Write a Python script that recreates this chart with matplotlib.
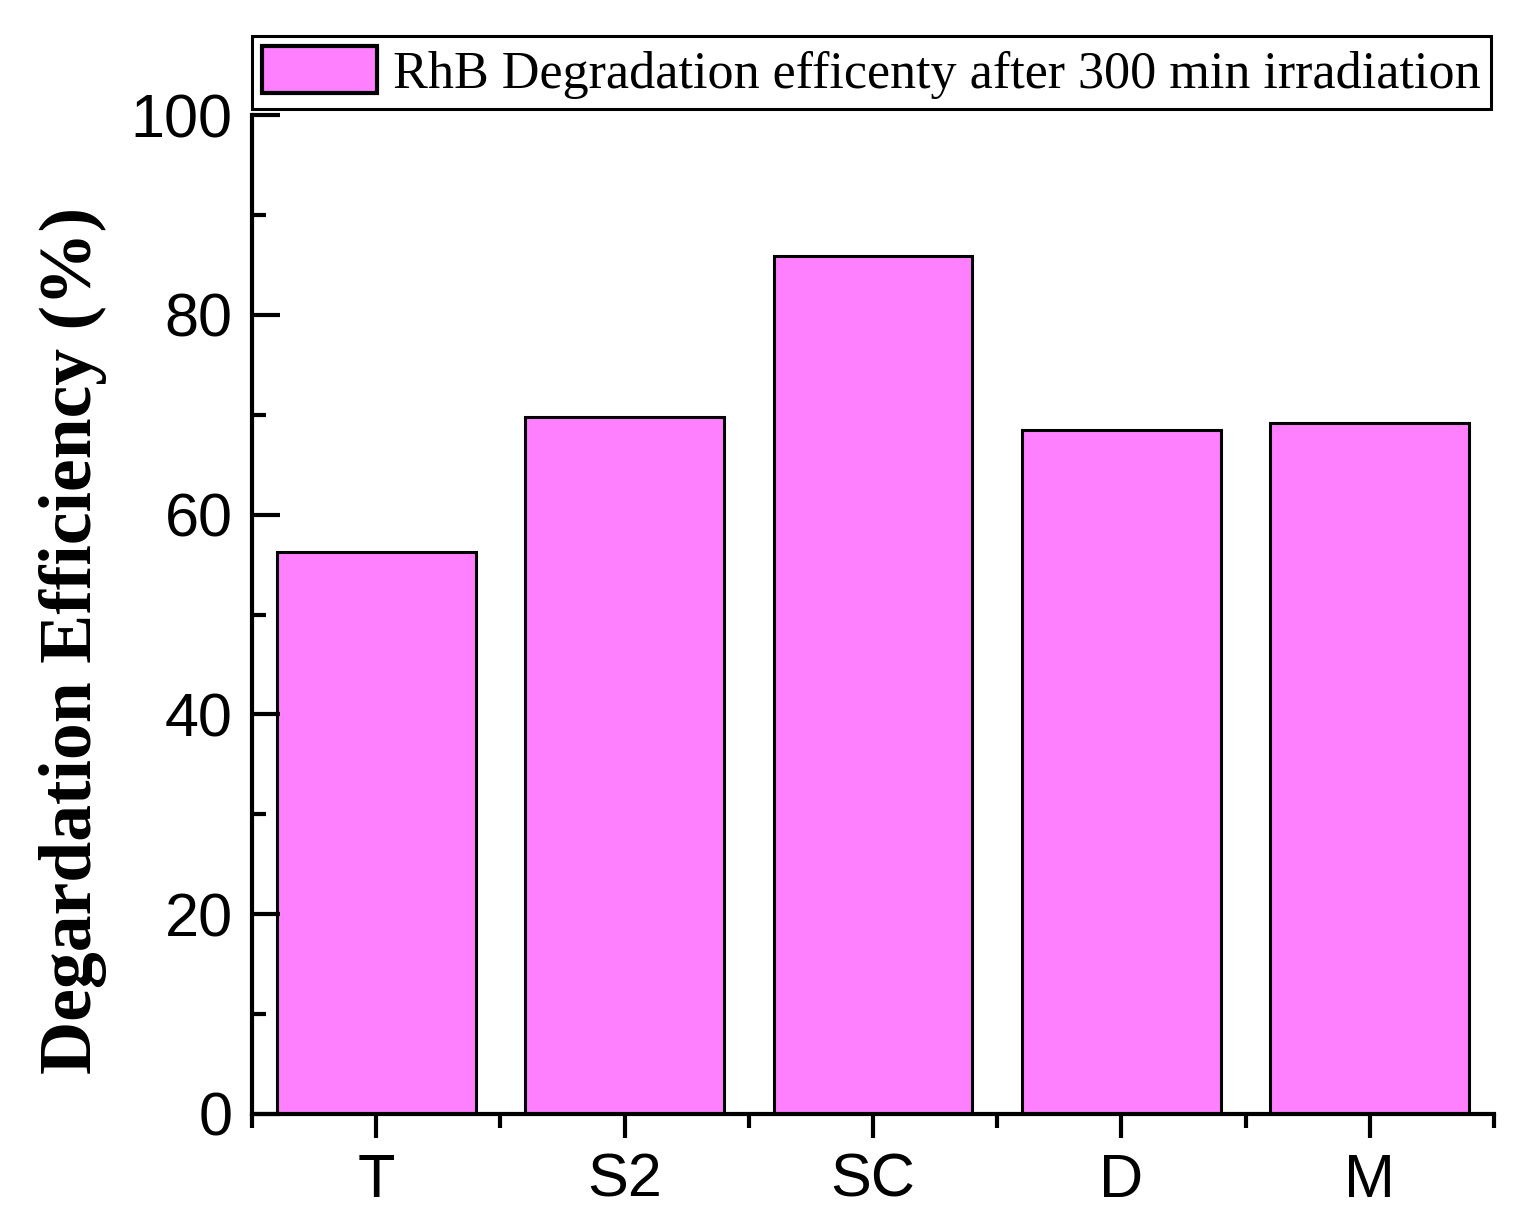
import matplotlib.pyplot as plt
from matplotlib.ticker import MultipleLocator, FixedLocator

categories = ['T', 'S2', 'SC', 'D', 'M']
efficiency = [56.3, 69.8, 85.9, 68.5, 69.2]
legend_label = 'RhB Degradation efficenty after 300 min irradiation'

fig = plt.figure(figsize=(15.26, 12.18), dpi=100)
ax = fig.add_axes([252 / 1526, 1 - 1114 / 1218, (1494 - 252) / 1526, (1114 - 115) / 1218])

x = list(range(len(categories)))
ax.bar(x, efficiency, width=0.8, color='#FF80FF', edgecolor='black', linewidth=2.2,
       label=legend_label)

ax.set_xlim(-0.5, len(categories) - 0.5)
ax.set_ylim(0, 100)
ax.set_xticks(x)
ax.set_xticklabels(categories)
ax.xaxis.set_minor_locator(FixedLocator([i - 0.5 for i in range(len(categories) + 1)]))
ax.yaxis.set_major_locator(MultipleLocator(20))
ax.yaxis.set_minor_locator(MultipleLocator(10))

for s in ['top', 'right']:
    ax.spines[s].set_visible(False)
for s in ['left', 'bottom']:
    ax.spines[s].set_linewidth(3)

ax.tick_params(axis='x', which='major', direction='out', length=17, width=3,
               labelsize=44, pad=11)
ax.tick_params(axis='x', which='minor', direction='out', length=10, width=3)
ax.tick_params(axis='y', which='major', direction='in', length=20, width=3,
               labelsize=44, pad=14)
ax.tick_params(axis='y', which='minor', direction='in', length=10, width=3)
for lbl in ax.get_xticklabels() + ax.get_yticklabels():
    lbl.set_fontfamily('Liberation Sans')

ax.set_ylabel('Degardation Efficiency (%)', fontfamily='Liberation Serif',
              fontweight='bold', fontsize=53, labelpad=17)
ax.yaxis.label.set_y(0.474)

leg = ax.legend(loc='lower left', bbox_to_anchor=(252 / 1526, 1 - 109 / 1218),
                bbox_transform=fig.transFigure, frameon=True, fancybox=False,
                prop={'family': 'Liberation Serif', 'size': 37.5},
                handlelength=2.2, handleheight=1.0, borderpad=0.2,
                handletextpad=0.3, borderaxespad=0)
leg.get_frame().set_edgecolor('black')
leg.get_frame().set_linewidth(2.2)
leg.get_frame().set_alpha(1)
for h in leg.legend_handles:
    h.set_linewidth(3)

fig.savefig('out.png', dpi=100)
